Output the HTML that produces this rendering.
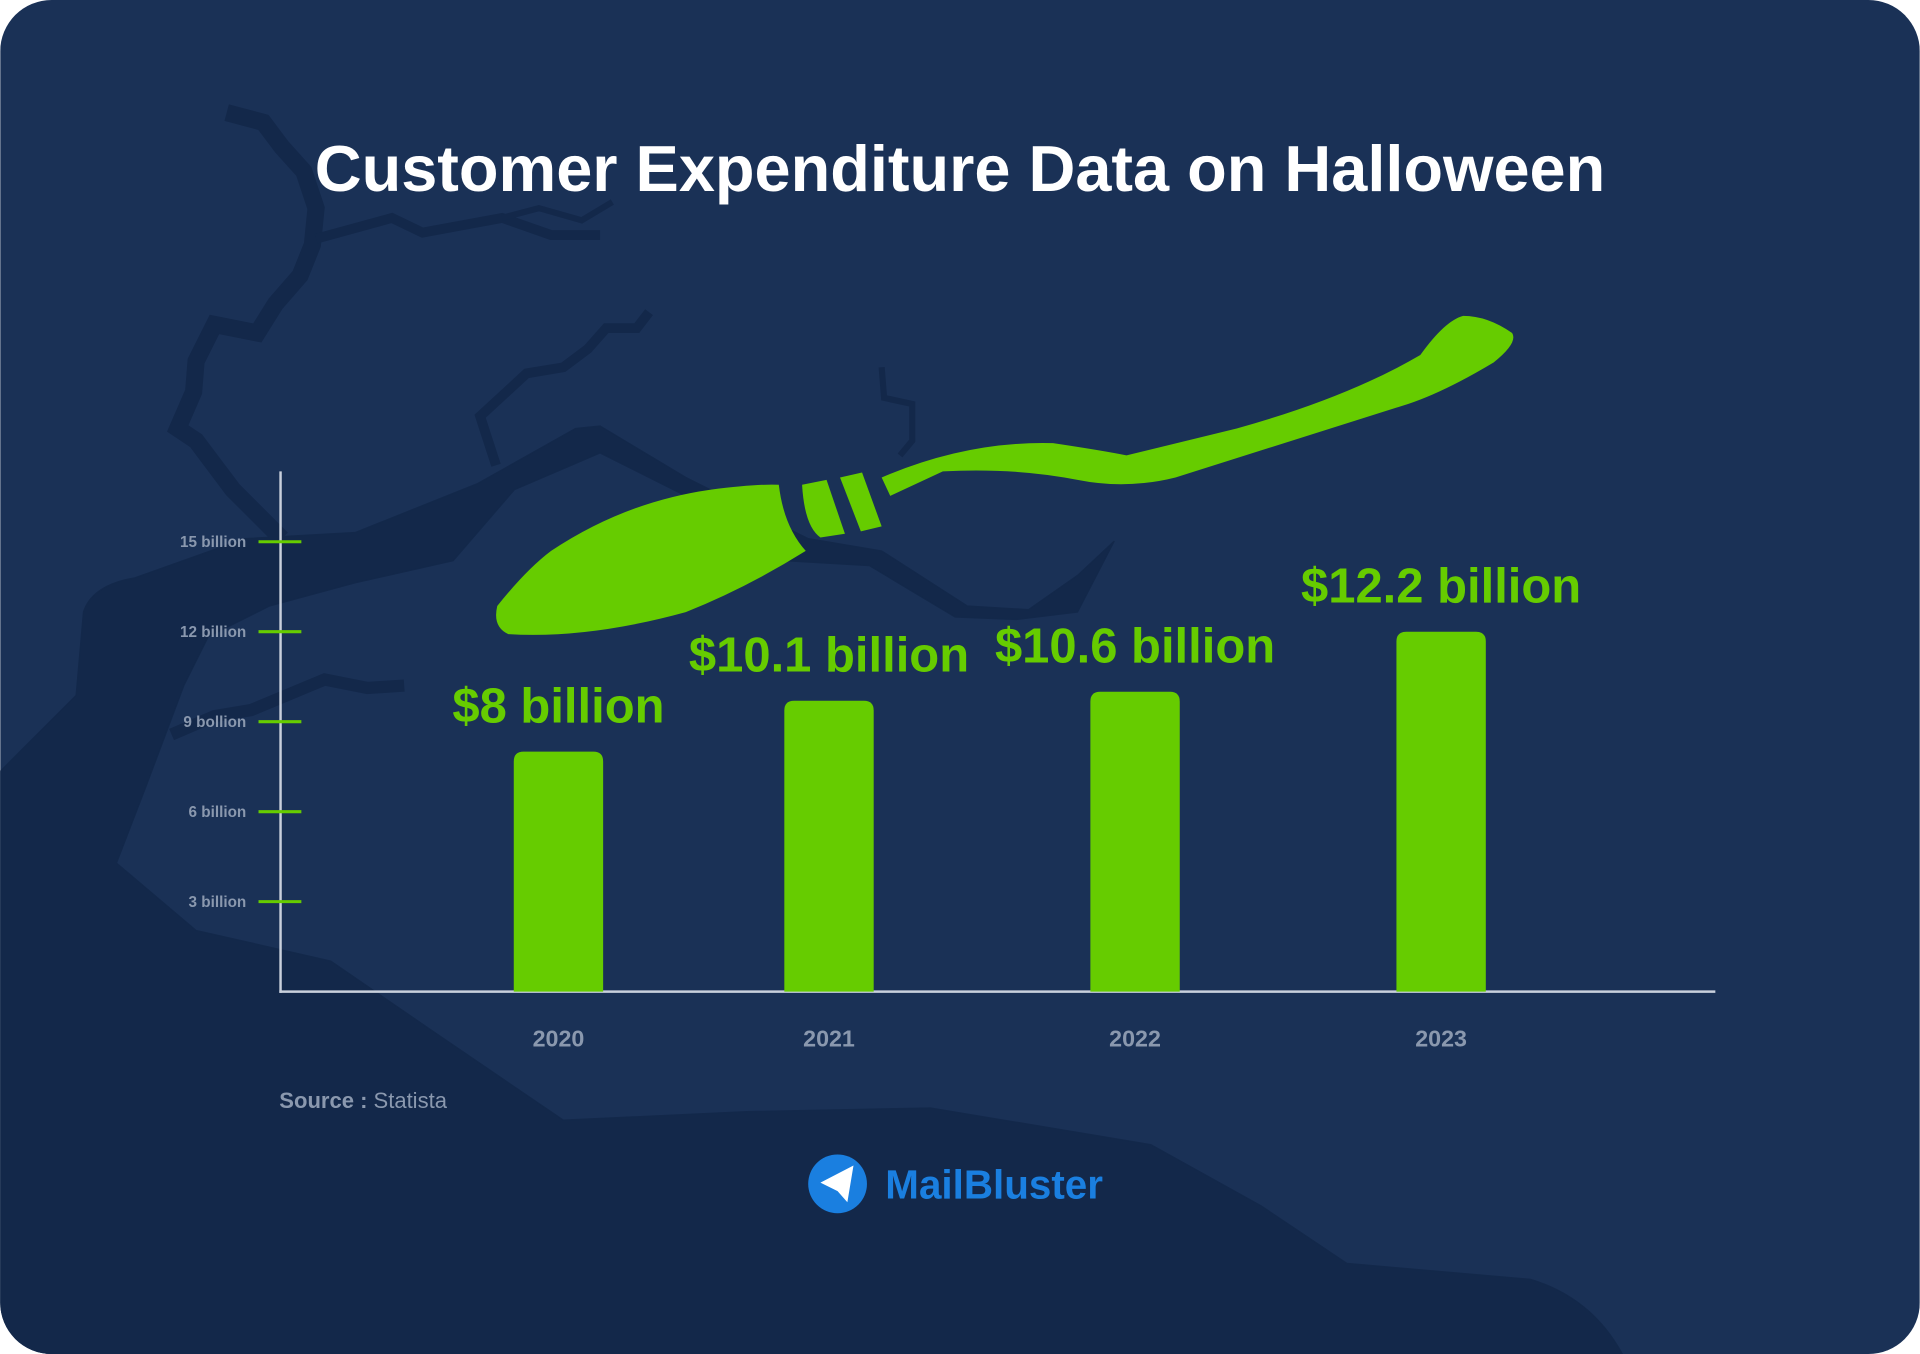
<!DOCTYPE html>
<html><head><meta charset="utf-8"><style>
html,body{margin:0;padding:0;background:#fff;width:1920px;height:1354px;overflow:hidden}
svg{display:block}
text{font-family:"Liberation Sans",sans-serif}
</style></head><body>
<svg id="chart" width="1920" height="1354" viewBox="0 0 1568 1106" xmlns="http://www.w3.org/2000/svg">
<defs><clipPath id="card"><rect x="0" y="0" width="1568" height="1106" rx="42"/></clipPath></defs>
<g clip-path="url(#card)">
<rect x="0" y="0" width="1568" height="1106" fill="#1a3156"/>
<g fill="#13284a" stroke="#13284a">
<path d="M0 630 L62 568 L68 500 Q75 478 110 472 L200 440 L290 435 L390 395 L470 350 L490 348 L560 390 L660 440 L720 450 L790 495 L840 498 L880 470 L910 442 L880 500 L830 506 L780 504 L710 462 L640 458 L570 410 L490 370 L420 400 L370 458 L290 476 L220 495 L170 520 L150 560 L120 640 L95 705 L160 760 L270 785 L350 840 L460 915 L610 908 L760 905 L940 935 L1030 985 L1100 1032 L1250 1045 Q1300 1060 1325 1106 L0 1106 Z"/>
<path d="M230 440 L190 400 L160 360 L145 350 L158 320 L160 295 L175 265 L210 272 L225 248 L245 225 L255 200 L258 170 L248 140 L230 120 L215 100 L185 92" fill="none" stroke-width="14"/>
<path d="M258 195 L320 178 L345 190 L410 178 L450 192 L490 192" fill="none" stroke-width="8"/>
<path d="M410 178 L440 170 L475 180 L500 165" fill="none" stroke-width="5"/>
<path d="M405 380 L392 340 L430 305 L460 300 L480 285 L495 268 L520 268 L530 255" fill="none" stroke-width="8"/>
<path d="M140 600 L175 585 L205 580 L265 555 L300 562 L330 560" fill="none" stroke-width="10"/>
<path d="M720 300 L722 325 L745 330 L745 360 L735 372" fill="none" stroke-width="5"/>
</g>
<text x="784" y="156" text-anchor="middle" font-size="53" font-weight="bold" fill="#ffffff">Customer Expenditure Data on Halloween</text>
<g fill="#66cc00">
<path d="M720 390 Q790 360 860 362 Q900 368 920 372 L1010 350 Q1100 325 1160 290 Q1180 262 1195 258 Q1215 258 1235 272 Q1240 280 1220 296 Q1180 320 1150 330 L960 390 Q920 400 880 392 Q830 382 770 385 L727 405 Z"/>
<path d="M655 396 L675 392 L690 436 L670 439 Q657 430 655 396 Z"/>
<path d="M686 390 L704 386 L720 430 L703 434 Z"/>
<path d="M636 396 Q640 430 658 450 Q610 480 560 500 Q480 522 415 518 Q402 512 406 495 Q430 465 450 450 Q510 410 580 400 Q620 395 636 396 Z"/>
</g>
<g id="axes"></g>
<g id="bars"></g>
<text x="228" y="905" font-size="18" fill="#8a98ae"><tspan font-weight="bold">Source :</tspan> Statista</text>
<g>
<circle cx="684" cy="967" r="24" fill="#1a7fe0"/>
<path d="M670 966 L697 952 L692 982 L684 973 Z" fill="#ffffff"/>
<text x="723" y="979" font-size="33" font-weight="bold" fill="#1a7fe0">MailBluster</text>
</g>
</g>
<script>
const categories = ["2020","2021","2022","2023"];
const values = [8, 9.7, 10, 12];
const valueLabels = ["$8 billion","$10.1 billion","$10.6 billion","$12.2 billion"];
const tickValues = [3, 6, 9, 12, 15];
const tickLabels = ["3 billion","6 billion","9 bollion","12 billion","15 billion"];

const NS = "http://www.w3.org/2000/svg";
const y0 = 810, pxPerUnit = 24.5;
function yScale(v){ return y0 - v * pxPerUnit; }
const barCenters = [456, 677, 927, 1177];
function xScale(i){ return barCenters[i]; }
function mk(tag, attrs, parent){ const e=document.createElementNS(NS,tag); for(const k in attrs) e.setAttribute(k,attrs[k]); parent.appendChild(e); return e; }

const axes = document.getElementById('axes');
let yAxis = mk('line',{x1:229,y1:385,x2:229,y2:811,stroke:'#c9d0dc','stroke-width':2},axes);


let xAxis = mk('line',{x1:228,y1:810,x2:1401,y2:810,stroke:'#c9d0dc','stroke-width':2},axes);


tickValues.forEach((v,i)=>{
  const y = yScale(v);
  const t = mk('line',{x1:211,y1:y,x2:246,y2:y,stroke:'#66cc00','stroke-width':2.5},axes);
  
  
  const l = mk('text',{x:201,y:y+4.5,'text-anchor':'end','font-size':12.5,'font-weight':'bold',fill:'#8a98ae'},axes);
  l.textContent = tickLabels[i];
  
  
});
const bars = document.getElementById('bars');
categories.forEach((c,i)=>{
  const cx = xScale(i), top = yScale(values[i]), w = 73;
  const b = mk('path',{d:`M${cx-w/2} ${y0} L${cx-w/2} ${top+8} Q${cx-w/2} ${top} ${cx-w/2+8} ${top} L${cx+w/2-8} ${top} Q${cx+w/2} ${top} ${cx+w/2} ${top+8} L${cx+w/2} ${y0} Z`,fill:'#66cc00'},bars);
  
  
  const vl = mk('text',{x:cx,y:top-24,'text-anchor':'middle','font-size':40,'font-weight':'bold',fill:'#66cc00'},bars);
  vl.textContent = valueLabels[i];
  
  
  const xl = mk('text',{x:cx,y:855,'text-anchor':'middle','font-size':19,'font-weight':'bold',fill:'#8a98ae'},bars);
  xl.textContent = c;
  
  
});
</script>
</svg>
</body></html>
